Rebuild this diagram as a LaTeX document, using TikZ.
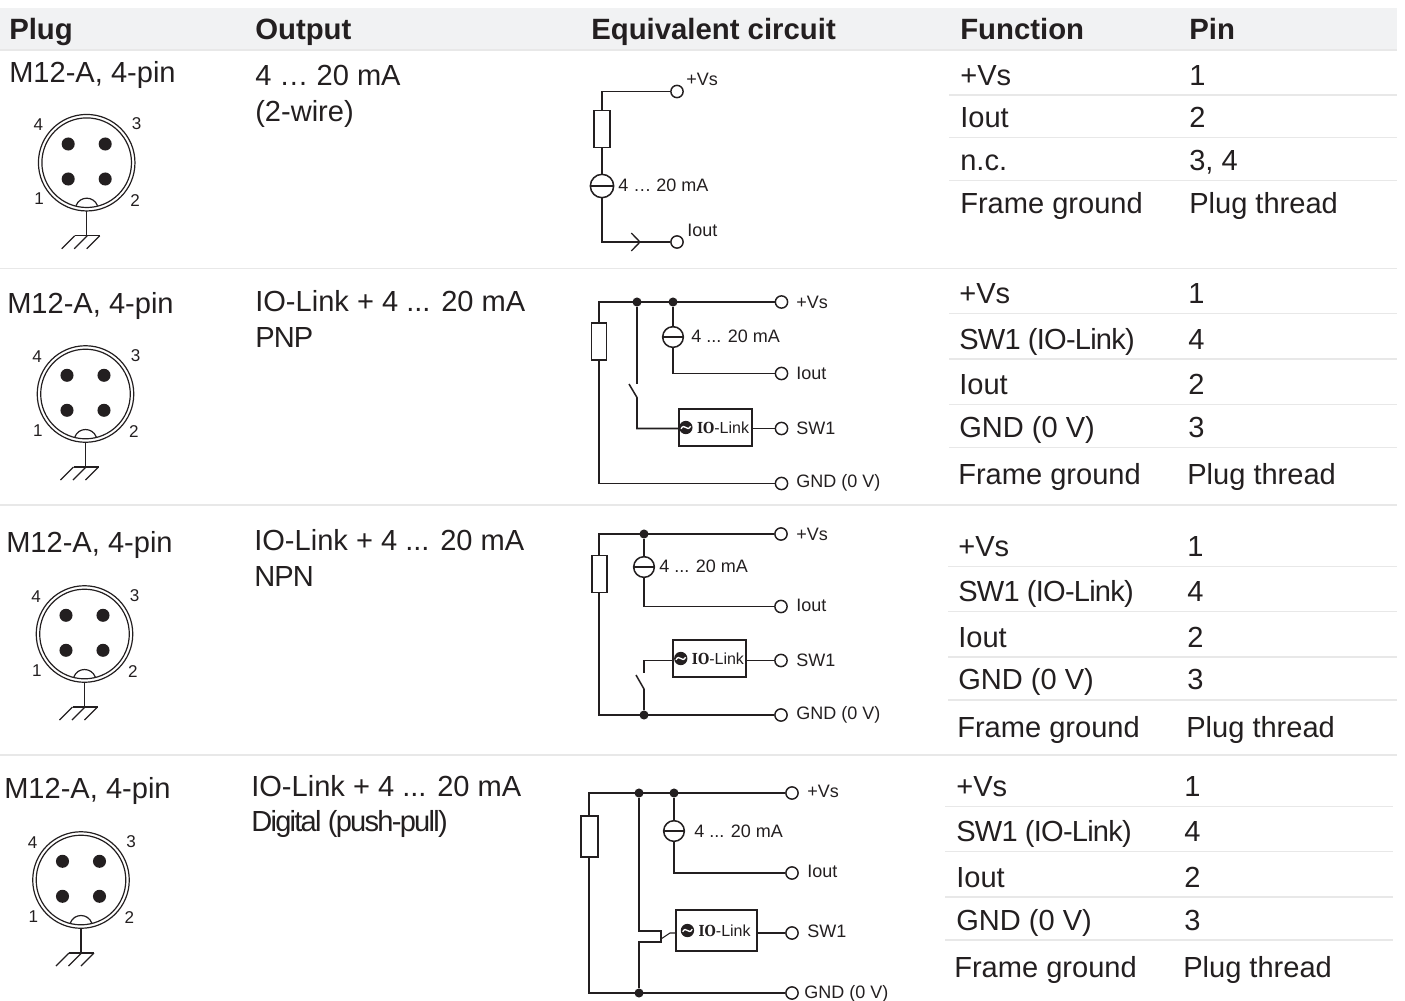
\documentclass[tikz,border=0pt]{standalone}
\usepackage{fontspec}
\setmainfont{Liberation Sans}
\newfontfamily\ioface[FakeStretch=0.85]{DejaVu Serif}
\definecolor{ink}{HTML}{231F20}
\definecolor{headbg}{HTML}{F1F2F3}
\definecolor{rulec}{HTML}{E8E8E8}
\tikzset{
  big/.style={anchor=base west,inner sep=0pt,text=ink,font=\fontsize{21.8pt}{24pt}\selectfont},
  tight/.style={big,font=\fontsize{21.8pt}{24pt}\selectfont\addfontfeature{LetterSpace=-2.7}},
  narrow/.style={big,font=\fontsize{21.8pt}{24pt}\selectfont\addfontfeature{LetterSpace=-3}},
  head/.style={big,font=\fontsize{22pt}{24pt}\selectfont\bfseries},
  small/.style={anchor=base west,inner sep=0pt,text=ink,font=\fontsize{13.5pt}{15pt}\selectfont},
  pinno/.style={anchor=center,inner sep=0pt,text=ink,font=\fontsize{12.8pt}{14pt}\selectfont},
  wire/.style={draw=ink,line width=1.15pt},
  term/.style={circle,draw=ink,line width=1.1pt,fill=white,minimum size=9.2pt,inner sep=0pt},
  junction/.style={circle,fill=ink,minimum size=6.8pt,inner sep=0pt},
  resistor/.style={rectangle,draw=ink,line width=1.15pt,fill=white,minimum width=11.5pt,minimum height=28pt,inner sep=0pt},
  source/.style={circle,draw=ink,line width=1.15pt,fill=white,minimum size=15.5pt,inner sep=0pt},
  iobox/.style={rectangle,draw=ink,line width=1.1pt,fill=white,minimum width=55pt,minimum height=28pt,inner sep=0pt},
  sep/.style={draw=rulec,line width=1pt},
}
\newcommand{\iologo}[2]{% box name, offset of logo centre from the box's left side
  \node[circle,fill=ink,minimum size=10pt,inner sep=0pt] (#1l) at (#1.west) [xshift=#2] {};
  \draw[white,line width=1pt] ([xshift=-3.6pt,yshift=-1pt]#1l.center) .. controls ([xshift=-1pt,yshift=4pt]#1l.center) and ([xshift=1pt,yshift=-4pt]#1l.center) .. ([xshift=3.6pt,yshift=1pt]#1l.center);
  \node[anchor=west,inner sep=0pt,text=ink,font=\fontsize{12pt}{13pt}\selectfont] at ([xshift=3pt]#1l.east) {{\ioface\fontsize{11.4pt}{13pt}\selectfont\bfseries IO}-Link};
}
\newcommand{\plugsym}[3]{% name, cx, cy
  \begin{scope}[shift={(#2,#3)}]
    \draw[ink,line width=.9pt] (0,0) circle[radius=36.2pt];
    \draw[ink,line width=.9pt] (0,0) circle[radius=33.6pt];
    \foreach \px/\py in {-18.5/-18.7,18.5/-18.7,-18.5/16.3,18.5/16.3}
      \fill[ink] (\px,\py) circle[radius=4.9pt];
    \draw[ink,line width=.9pt] (-10.7,43) .. controls (-7,33) and (7,33) .. (10.8,43);
    \draw[ink,line width=.9pt] (0,48) -- (0,73);
    \draw[ink,line width=.9pt] (-12,73) -- (13,73);
    \draw[ink,line width=.9pt] (-12,73) -- (-25,86) (0.5,73) -- (-12.5,86) (13,73) -- (0,86);
    \node[pinno] at (-48.4,-37.7) {4};
    \node[pinno] at (50,-38.7) {3};
    \node[pinno] at (-47.7,36.3) {1};
    \node[pinno] at (48.3,38) {2};
  \end{scope}
}
\begin{document}
\begin{tikzpicture}[x=0.75pt,y=-0.75pt]
\useasboundingbox (0,0) rectangle (1405,1000);
% header
\fill[headbg] (0,7.5) rectangle (1397,50);
\draw[sep] (0,50) -- (1397,50);
\node[head] (h1) at (9,39) {Plug};
\node[head] (h2) at (255,39) {Output};
\node[head] (h3) at (591,39) {Equivalent circuit};
\node[head] (h4) at (960,39) {Function};
\node[head] (h5) at (1189,39) {Pin};
% separators
\draw[sep] (0,268.5) -- (1397,268.5);
\draw[sep] (0,505) -- (1397,505);
\draw[sep] (0,755) -- (1397,755);
\foreach \yy in {95,137.5,180.5}{\draw[sep] (949,\yy) -- (1397,\yy);}
\foreach \yy in {313.5,359,404.5,447.5}{\draw[sep] (949,\yy) -- (1397,\yy);}
\foreach \yy in {566.5,611.5,657,700}{\draw[sep] (948,\yy) -- (1397,\yy);}
\foreach \yy in {806.5,851.5,897,940}{\draw[sep] (945,\yy) -- (1393,\yy);}
% column 1
\node[big] (p1) at (9,82) {M12-A, 4-pin};
\node[big] (p2) at (7,313) {M12-A, 4-pin};
\node[big] (p3) at (6,552) {M12-A, 4-pin};
\node[big] (p4) at (4,798) {M12-A, 4-pin};
\plugsym{a}{86.7}{162.7}
\plugsym{b}{85.5}{394}
\plugsym{c}{84.5}{634}
\plugsym{d}{81}{880}
% column 2
\node[big] (o1) at (255,85) {4 … 20 mA};
\node[big] (o1b) at (255,121) {(2-wire)};
\node[big] (o2) at (255,311) {IO-Link + 4 ... 20 mA};
\node[narrow] (o2b) at (255,347) {PNP};
\node[big] (o3) at (254,550) {IO-Link + 4 ... 20 mA};
\node[narrow] (o3b) at (254,586) {NPN};
\node[big] (o4) at (251,796) {IO-Link + 4 ... 20 mA};
\node[narrow,font=\fontsize{21.8pt}{24pt}\selectfont\addfontfeature{LetterSpace=-6}] (o4b) at (251,831) {Digital (push-pull)};
% function / pin
\node[big] at (960,85) {+Vs};\node[big] at (1189,85) {1};
\node[big] at (960,127) {Iout};\node[big] at (1189,127) {2};
\node[big] at (960,170) {n.c.};\node[big] at (1189,170) {3, 4};
\node[big] at (960,213) {Frame ground};\node[big] at (1189,213) {Plug thread};
\node[big] at (959,303) {+Vs};\node[big] at (1188,303) {1};
\node[tight] at (959,349) {SW1 (IO-Link)};\node[big] at (1188,349) {4};
\node[big] at (959,394) {Iout};\node[big] at (1188,394) {2};
\node[big] at (959,437) {GND (0 V)};\node[big] at (1188,437) {3};
\node[big] at (958,484) {Frame ground};\node[big] at (1187,484) {Plug thread};
\node[big] at (958,556) {+Vs};\node[big] at (1187,556) {1};
\node[tight] at (958,601) {SW1 (IO-Link)};\node[big] at (1187,601) {4};
\node[big] at (958,647) {Iout};\node[big] at (1187,647) {2};
\node[big] at (958,689) {GND (0 V)};\node[big] at (1187,689) {3};
\node[big] at (957,737) {Frame ground};\node[big] at (1186,737) {Plug thread};
\node[big] at (956,796) {+Vs};\node[big] at (1184,796) {1};
\node[tight] at (956,841) {SW1 (IO-Link)};\node[big] at (1184,841) {4};
\node[big] at (956,887) {Iout};\node[big] at (1184,887) {2};
\node[big] at (956,930) {GND (0 V)};\node[big] at (1184,930) {3};
\node[big] at (954,977) {Frame ground};\node[big] at (1183,977) {Plug thread};
% circuit 1
\coordinate (a0) at (602,91.5);
\coordinate (a1) at (602,242);
\node[term] (avs) at (677,91.5) {};
\node[term] (aio) at (677,242) {};
\node[resistor,minimum width=12pt] (ar) at (602,129) {};
\node[source,minimum size=17.5pt] (as) at (602,186) {};
\draw[wire] (avs) -- (a0) -- (ar);
\draw[wire] (ar) -- (as);
\draw[wire] (as) -- (a1) -- (aio);
\draw[wire,line width=1pt] (as.west) -- (as.east);
\coordinate (aa) at (640,242);
\draw[wire,line width=1pt] ([xshift=-6.5pt,yshift=-6.7pt]aa) -- (aa) -- ([xshift=-6.5pt,yshift=6.7pt]aa);
\node[small] at (686,85) {+Vs};
\node[small] at (618,191) {4 … 20 mA};
\node[small] at (687,236) {Iout};
% circuit 2
\coordinate (b0) at (599,302);
\coordinate (b1) at (599,483.5);
\node[junction] (bj1) at (637,302) {};
\node[junction] (bj2) at (673,302) {};
\node[term] (bvs) at (781.5,302) {};
\node[term] (bio) at (781.5,373.5) {};
\node[term] (bsw) at (781.5,428.5) {};
\node[term] (bgn) at (781.5,483.5) {};
\node[resistor] (br) at (599,341.5) {};
\node[source] (bs) at (673,337) {};
\node[iobox] (bb) at (715.5,427.5) {};
\coordinate (bc) at (673,373.5);
\coordinate (bd) at (637,428.5);
\coordinate (bsa) at (637,384);
\coordinate (bsb) at (637,397.5);
\coordinate (bsc) at (629,384);
\draw[wire] (bvs) -- (b0) -- (br);
\draw[wire] (br) -- (b1) -- (bgn);
\draw[wire] (bj2) -- (bs);
\draw[wire] (bs) -- (bc) -- (bio);
\draw[wire,line width=1pt] (bs.west) -- (bs.east);
\draw[wire] (bj1) -- (bsa);
\draw[wire] (bsc) -- (bsb) -- (bd) -- (bb.west |- bd);
\draw[wire] (bb.east |- bsw) -- (bsw);
\iologo{bb}{5.8pt}
\node[small] at (796,308) {+Vs};
\node[small] at (691,342) {4 ... 20 mA};
\node[small] at (796,379) {Iout};
\node[small] at (796,434) {SW1};
\node[small] at (796,487) {GND (0 V)};
% circuit 3
\coordinate (c0) at (599,534);
\coordinate (c1) at (599,715);
\node[junction] (cj1) at (644,534) {};
\node[junction] (cj2) at (644,715) {};
\node[term] (cvs) at (781,534) {};
\node[term] (cio) at (781,606.5) {};
\node[term] (csw) at (781,660.5) {};
\node[term] (cgn) at (781,715) {};
\node[source] (cs) at (644,567) {};
\node[iobox] (cb) at (709.5,658.5) {};
\coordinate (cc) at (644,606.5);
\coordinate (cd) at (644,660.5);
\coordinate (cse) at (644,673);
\coordinate (csb) at (644,689);
\coordinate (csc) at (636,675);
\draw[wire] (cvs) -- (c0) -- (c1) -- (cgn);
\node[resistor] (cr) at (599.5,574) {};
\draw[wire] (cj1) -- (cs);
\draw[wire] (cs) -- (cc) -- (cio);
\draw[wire,line width=1pt] (cs.west) -- (cs.east);
\draw[wire] (cb.west |- cd) -- (cd) -- (cse);
\draw[wire] (csc) -- (csb) -- (cj2);
\draw[wire] (cb.east |- csw) -- (csw);
\iologo{cb}{6.5pt}
\node[small] at (796,540) {+Vs};
\node[small] at (659,572) {4 ... 20 mA};
\node[small] at (796,611) {Iout};
\node[small] at (796,666) {SW1};
\node[small] at (796,719) {GND (0 V)};
% circuit 4
\coordinate (d0) at (589,793);
\coordinate (d1) at (589,993);
\node[junction] (dj1) at (639,793) {};
\node[junction] (dj2) at (674,793) {};
\node[junction] (dj3) at (639,993) {};
\node[term] (dvs) at (792,793) {};
\node[term] (dio) at (792,873) {};
\node[term] (dsw) at (792,933) {};
\node[term] (dgn) at (792,993) {};
\node[source] (ds) at (674,831) {};
\node[iobox,minimum width=60.5pt,minimum height=30.7pt] (db) at (716.5,930.5) {};
\coordinate (dc) at (674,873);
\coordinate (de) at (639,931);
\coordinate (df) at (661,931);
\coordinate (dg) at (661,942);
\coordinate (dh) at (639,942);
\coordinate (di) at (670,933);
\coordinate (dk) at (661,939);
\draw[wire] (dvs) -- (d0) -- (d1) -- (dgn);
\node[resistor,minimum width=12.5pt,minimum height=30.5pt] (dr) at (589.5,836.5) {};
\draw[wire] (dj2) -- (ds);
\draw[wire] (ds) -- (dc) -- (dio);
\draw[wire,line width=1pt] (ds.west) -- (ds.east);
\draw[wire] (dj1) -- (de) -- (df) -- (dg) -- (dh) -- (dj3);
\draw[wire,line width=.8pt] (dk) -- (di) -- (db.west |- di);
\draw[wire] (db.east |- dsw) -- (dsw);
\iologo{db}{9pt}
\node[small] at (807,797) {+Vs};
\node[small] at (694,837) {4 ... 20 mA};
\node[small] at (807,877) {Iout};
\node[small] at (807,937) {SW1};
\node[small] at (804,998) {GND (0 V)};
\end{tikzpicture}
\end{document}
